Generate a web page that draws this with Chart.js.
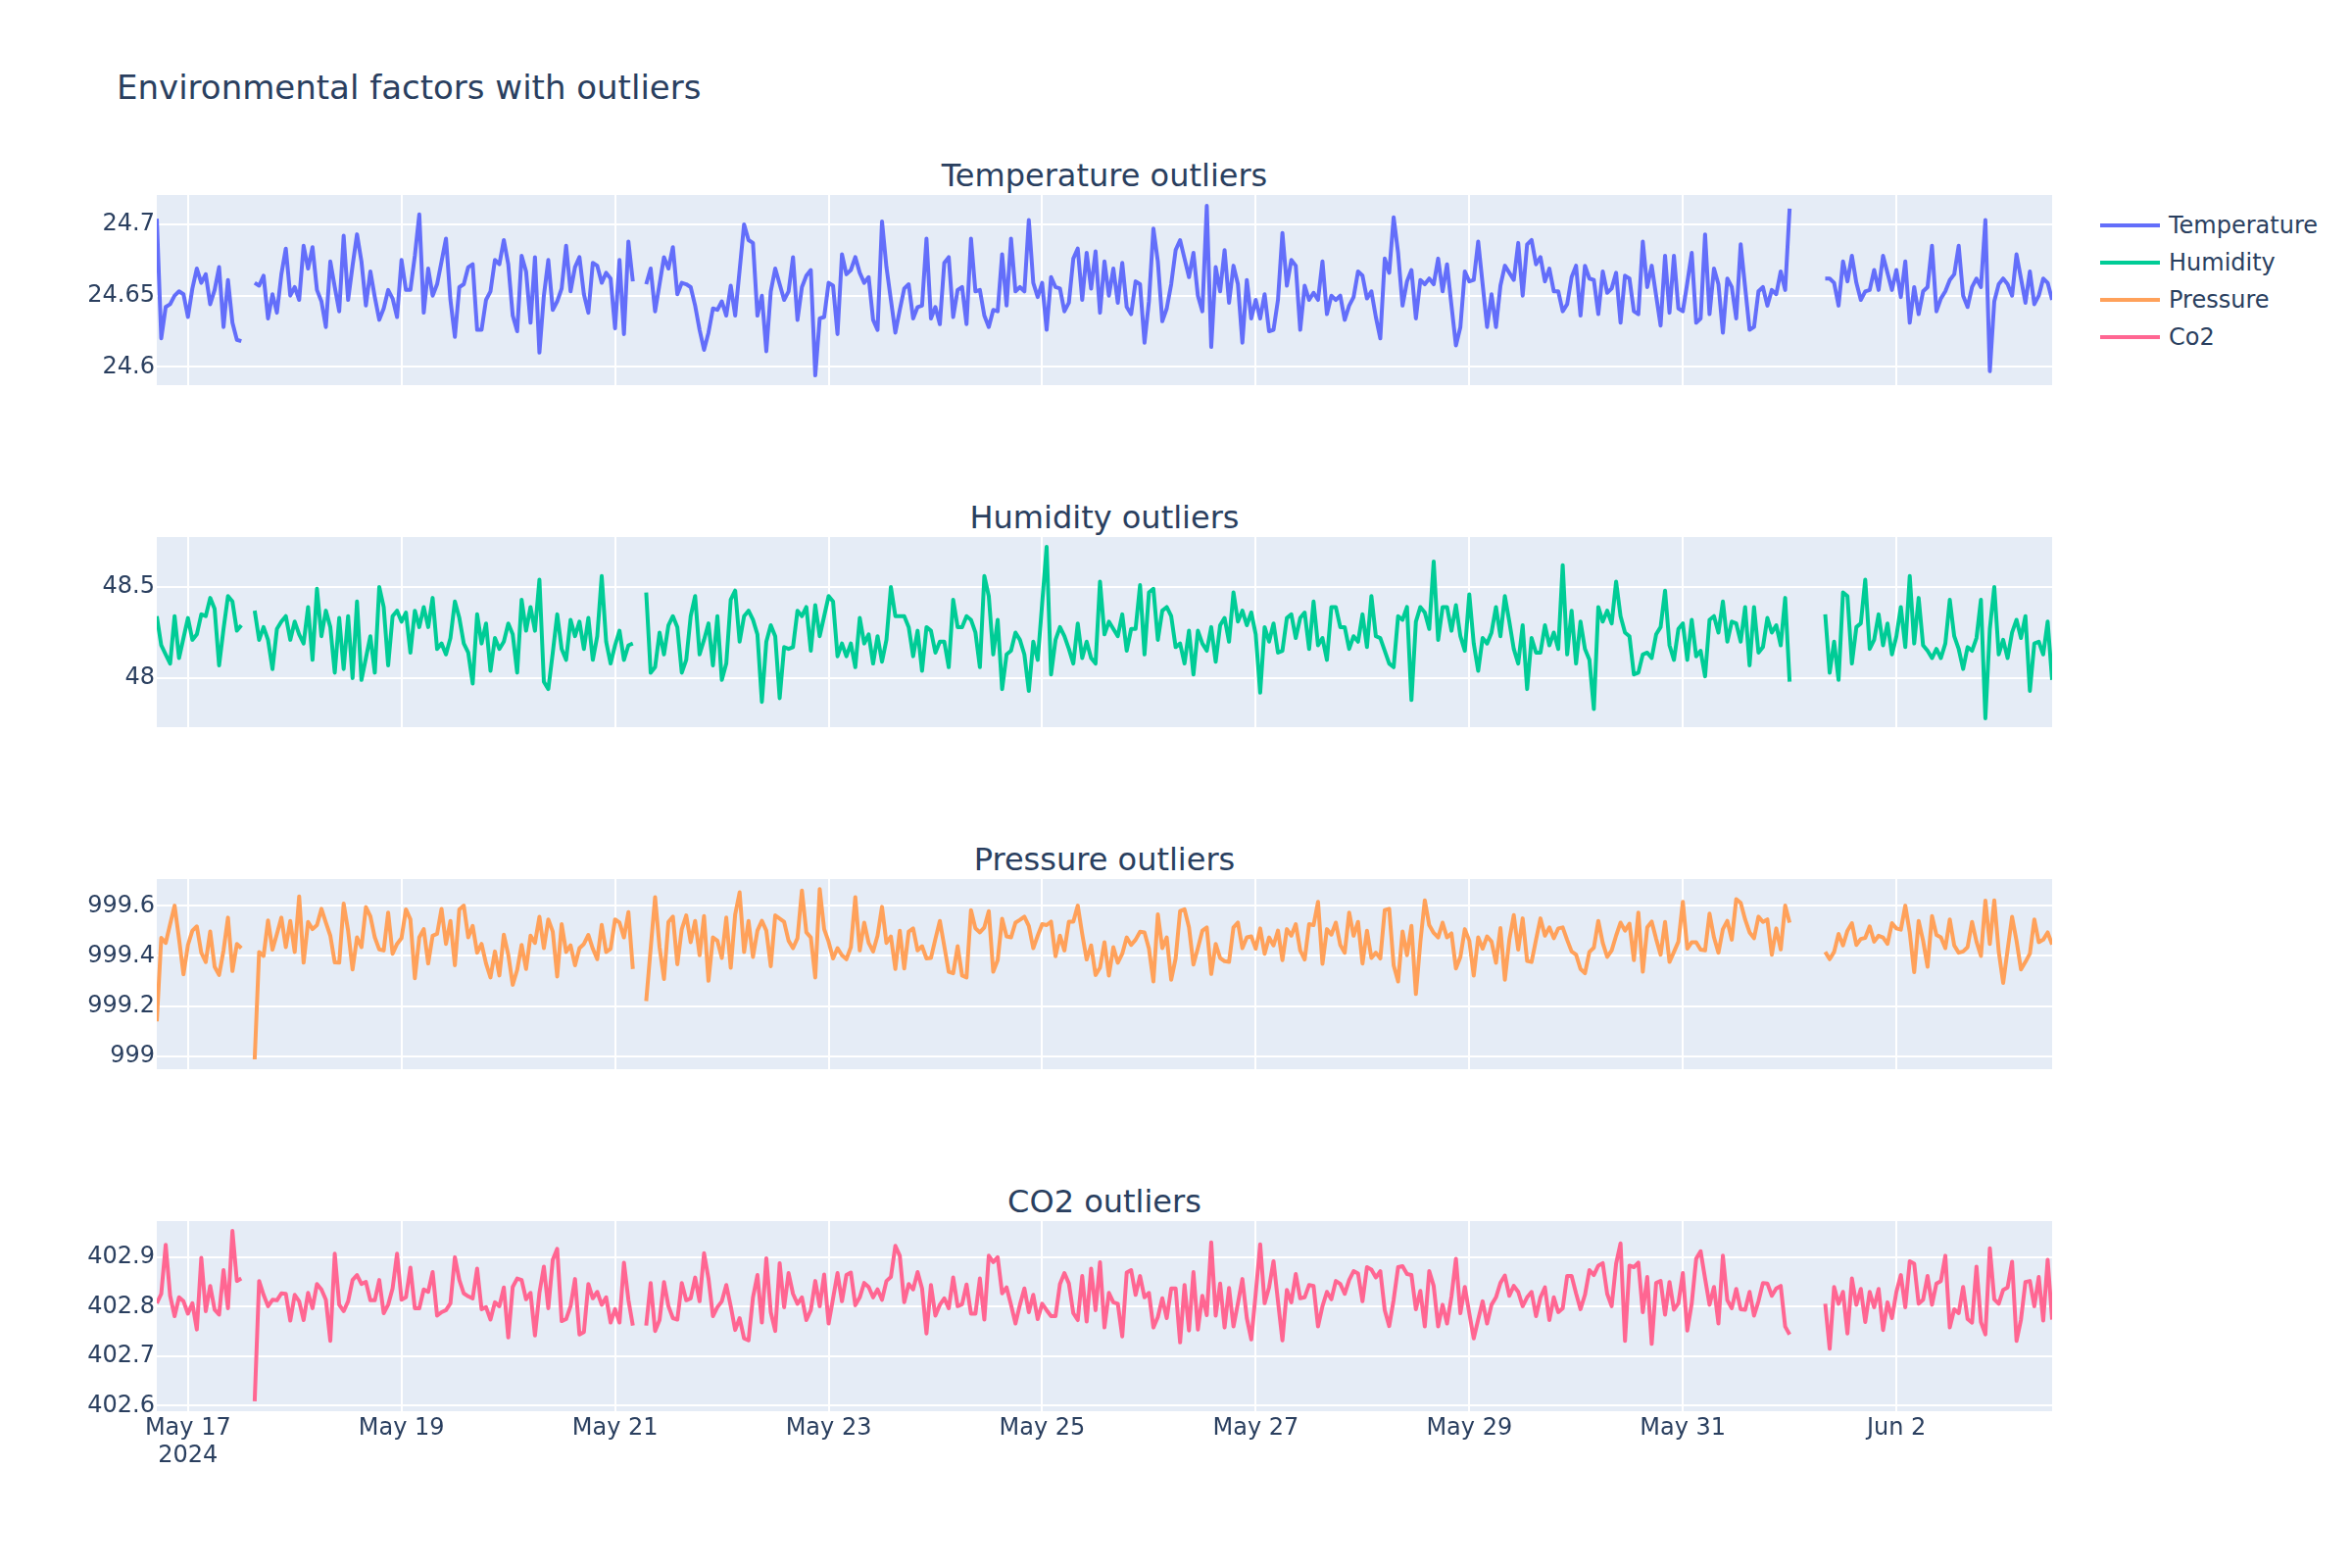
<!DOCTYPE html>
<html><head><meta charset="utf-8">
<script src="https://cdn.jsdelivr.net/npm/chart.js@4.4.1/dist/chart.umd.min.js"></script>
<style>
html,body{margin:0;padding:0;background:#fff;width:2400px;height:1600px;overflow:hidden;font-family:'DejaVu Sans',sans-serif;color:#2a3f5f}
canvas{position:absolute;left:0}
.t{position:absolute;white-space:nowrap;color:#2a3f5f}
.sub{left:160px;width:1934px;text-align:center;font-size:32px;line-height:32px}
.lg{font-size:24px;line-height:24px;left:2213px}
.ll{position:absolute;left:2143px;width:61px;height:4px}
</style></head><body>
<div class="t" style="left:119px;top:72px;font-size:34px;line-height:34px">Environmental factors with outliers</div>
<div class="t sub" style="top:163px">Temperature outliers</div>
<div class="t sub" style="top:512px">Humidity outliers</div>
<div class="t sub" style="top:861px">Pressure outliers</div>
<div class="t sub" style="top:1210px">CO2 outliers</div>
<div id="legend"></div>
<canvas id="c0" width="2400" height="234" style="top:179px;width:2400px;height:234px"></canvas>
<canvas id="c1" width="2400" height="234" style="top:528px;width:2400px;height:234px"></canvas>
<canvas id="c2" width="2400" height="234" style="top:877px;width:2400px;height:234px"></canvas>
<canvas id="c3" width="2400" height="314" style="top:1226px;width:2400px;height:314px"></canvas>
<script>
const startTime = Date.UTC(2024, 4, 16, 17);
const HOUR = 3600000;

const temperature = [
24.704,24.620,24.642,24.644,24.650,24.653,24.651,24.635,24.655,24.669,
24.659,24.665,24.644,24.654,24.670,24.628,24.661,24.631,24.619,24.618,
null,null,24.659,24.657,24.664,24.634,24.651,24.638,24.665,24.683,
24.650,24.656,24.647,24.685,24.669,24.684,24.654,24.646,24.628,24.674,
24.656,24.639,24.692,24.647,24.671,24.693,24.674,24.643,24.667,24.649,
24.633,24.641,24.654,24.648,24.635,24.675,24.654,24.654,24.678,24.707,
24.638,24.669,24.650,24.658,24.674,24.690,24.647,24.621,24.656,24.658,
24.670,24.672,24.626,24.626,24.647,24.653,24.675,24.672,24.689,24.672,
24.636,24.625,24.678,24.667,24.631,24.677,24.610,24.650,24.675,24.640,
24.646,24.655,24.685,24.653,24.670,24.677,24.651,24.638,24.673,24.671,
24.659,24.666,24.662,24.627,24.675,24.623,24.688,24.660,null,null,
24.658,24.669,24.639,24.658,24.677,24.669,24.684,24.651,24.659,24.658,
24.656,24.643,24.626,24.612,24.624,24.641,24.640,24.646,24.636,24.657,
24.636,24.668,24.700,24.689,24.687,24.636,24.650,24.611,24.653,24.669,
24.658,24.647,24.653,24.677,24.633,24.656,24.664,24.668,24.594,24.634,
24.635,24.659,24.657,24.623,24.679,24.665,24.668,24.677,24.666,24.659,
24.663,24.633,24.626,24.702,24.670,24.647,24.624,24.640,24.655,24.658,
24.634,24.642,24.643,24.690,24.634,24.642,24.630,24.673,24.677,24.635,
24.654,24.656,24.630,24.690,24.653,24.654,24.636,24.628,24.640,24.639,
24.679,24.643,24.690,24.653,24.656,24.653,24.703,24.659,24.649,24.659,
24.626,24.663,24.656,24.655,24.639,24.645,24.676,24.683,24.647,24.680,
24.655,24.681,24.638,24.674,24.650,24.669,24.645,24.673,24.642,24.637,
24.660,24.658,24.617,24.646,24.697,24.674,24.632,24.641,24.658,24.682,
24.689,24.676,24.663,24.680,24.650,24.639,24.713,24.614,24.670,24.653,
24.682,24.645,24.671,24.658,24.617,24.661,24.634,24.647,24.634,24.651,
24.625,24.626,24.647,24.694,24.657,24.675,24.671,24.626,24.657,24.647,
24.652,24.647,24.674,24.637,24.650,24.647,24.650,24.633,24.643,24.649,
24.667,24.664,24.648,24.653,24.635,24.620,24.676,24.666,24.705,24.680,
24.643,24.660,24.668,24.634,24.661,24.658,24.662,24.658,24.676,24.653,
24.672,24.643,24.615,24.628,24.667,24.660,24.661,24.688,24.658,24.628,
24.651,24.628,24.657,24.671,24.666,24.661,24.687,24.650,24.686,24.689,
24.672,24.677,24.660,24.669,24.653,24.653,24.639,24.644,24.663,24.671,
24.636,24.671,24.662,24.661,24.637,24.667,24.652,24.655,24.666,24.631,
24.664,24.662,24.639,24.637,24.688,24.656,24.671,24.650,24.629,24.678,
24.638,24.678,24.641,24.639,24.659,24.680,24.631,24.634,24.693,24.637,
24.669,24.658,24.624,24.662,24.656,24.634,24.686,24.656,24.626,24.628,
24.653,24.656,24.643,24.654,24.651,24.667,24.654,24.711,null,null,
null,null,null,null,null,24.662,24.662,24.659,24.643,24.674,
24.660,24.678,24.659,24.647,24.653,24.654,24.668,24.654,24.678,24.666,
24.654,24.668,24.649,24.674,24.631,24.656,24.637,24.653,24.656,24.685,
24.639,24.648,24.653,24.661,24.665,24.685,24.650,24.642,24.656,24.662,
24.656,24.703,24.597,24.646,24.658,24.662,24.658,24.650,24.679,24.662,
24.645,24.667,24.644,24.650,24.662,24.659,24.647
];

const humidity = [
48.34,48.18,48.13,48.08,48.34,48.11,48.22,48.33,48.21,48.24,
48.35,48.34,48.44,48.38,48.07,48.27,48.45,48.42,48.26,48.29,
null,null,48.37,48.21,48.28,48.21,48.05,48.27,48.31,48.34,
48.21,48.31,48.24,48.19,48.39,48.10,48.49,48.23,48.37,48.28,
48.03,48.33,48.05,48.34,48.00,48.42,47.99,48.11,48.23,48.03,
48.50,48.39,48.07,48.34,48.37,48.31,48.36,48.14,48.37,48.28,
48.39,48.28,48.44,48.16,48.19,48.13,48.22,48.42,48.33,48.19,
48.14,47.97,48.35,48.19,48.30,48.04,48.22,48.16,48.20,48.30,
48.24,48.03,48.43,48.26,48.39,48.26,48.54,47.98,47.94,48.14,
48.35,48.16,48.10,48.32,48.23,48.31,48.16,48.33,48.10,48.23,
48.56,48.20,48.08,48.18,48.26,48.10,48.18,48.19,null,null,
48.47,48.03,48.06,48.25,48.13,48.29,48.34,48.28,48.03,48.10,
48.34,48.45,48.13,48.21,48.30,48.07,48.34,47.99,48.08,48.43,
48.48,48.20,48.34,48.37,48.32,48.24,47.87,48.20,48.29,48.23,
47.89,48.17,48.16,48.17,48.37,48.34,48.39,48.15,48.40,48.23,
48.34,48.45,48.42,48.12,48.19,48.12,48.19,48.06,48.33,48.19,
48.24,48.08,48.23,48.09,48.21,48.50,48.34,48.34,48.34,48.28,
48.12,48.26,48.04,48.28,48.26,48.14,48.20,48.20,48.06,48.43,
48.28,48.28,48.34,48.32,48.25,48.06,48.56,48.45,48.13,48.32,
47.94,48.13,48.15,48.25,48.21,48.13,47.93,48.20,48.10,48.41,
48.72,48.02,48.21,48.28,48.23,48.16,48.08,48.30,48.11,48.20,
48.11,48.08,48.53,48.24,48.31,48.27,48.23,48.35,48.15,48.27,
48.27,48.51,48.13,48.47,48.49,48.21,48.37,48.39,48.34,48.17,
48.19,48.08,48.26,48.02,48.26,48.19,48.15,48.28,48.09,48.29,
48.33,48.20,48.47,48.31,48.37,48.29,48.36,48.24,47.92,48.28,
48.20,48.30,48.14,48.15,48.33,48.35,48.22,48.33,48.36,48.16,
48.42,48.18,48.22,48.10,48.39,48.39,48.28,48.28,48.16,48.23,
48.20,48.35,48.17,48.45,48.23,48.22,48.15,48.08,48.06,48.34,
48.32,48.39,47.88,48.31,48.39,48.36,48.27,48.64,48.21,48.39,
48.39,48.26,48.40,48.23,48.15,48.46,48.19,48.04,48.22,48.19,
48.25,48.39,48.23,48.45,48.31,48.16,48.08,48.29,47.94,48.22,
48.14,48.14,48.29,48.18,48.25,48.16,48.62,48.13,48.37,48.08,
48.31,48.16,48.10,47.83,48.39,48.31,48.37,48.30,48.53,48.34,
48.25,48.23,48.02,48.03,48.13,48.14,48.11,48.24,48.28,48.48,
48.18,48.10,48.27,48.30,48.10,48.32,48.12,48.15,48.01,48.32,
48.34,48.25,48.42,48.20,48.31,48.30,48.20,48.39,48.07,48.39,
48.14,48.17,48.33,48.25,48.29,48.18,48.44,47.98,null,null,
null,null,null,null,null,48.35,48.03,48.20,47.99,48.47,
48.45,48.08,48.28,48.30,48.54,48.16,48.21,48.35,48.18,48.30,
48.13,48.23,48.39,48.17,48.56,48.19,48.44,48.18,48.15,48.11,
48.16,48.11,48.19,48.43,48.23,48.16,48.05,48.17,48.15,48.22,
48.43,47.78,48.27,48.50,48.13,48.21,48.11,48.25,48.32,48.22,
48.34,47.93,48.19,48.20,48.13,48.31,47.99
];

const pressure = [
999.139,999.472,999.452,999.527,999.601,999.468,999.327,999.444,999.501,999.518,
999.413,999.376,999.498,999.357,999.324,999.422,999.553,999.340,999.448,999.431,
null,null,998.987,999.416,999.400,999.542,999.425,999.488,999.553,999.435,
999.540,999.416,999.638,999.373,999.536,999.507,999.523,999.588,999.533,999.481,
999.374,999.373,999.609,999.501,999.346,999.474,999.435,999.595,999.559,999.474,
999.426,999.422,999.573,999.409,999.448,999.471,999.586,999.546,999.311,999.474,
999.507,999.370,999.481,999.488,999.588,999.448,999.540,999.363,999.586,999.601,
999.474,999.520,999.413,999.448,999.370,999.314,999.418,999.322,999.485,999.405,
999.285,999.344,999.444,999.348,999.481,999.452,999.556,999.431,999.546,999.497,
999.318,999.527,999.416,999.442,999.363,999.431,999.448,999.484,999.429,999.387,
999.524,999.416,999.429,999.546,999.533,999.474,999.575,999.348,null,null,
999.220,999.429,999.635,999.435,999.308,999.536,999.557,999.367,999.507,999.562,
999.455,999.540,999.403,999.559,999.301,999.474,999.461,999.392,999.553,999.353,
999.566,999.654,999.416,999.540,999.396,999.501,999.540,999.501,999.359,999.562,
999.549,999.536,999.461,999.431,999.471,999.661,999.494,999.474,999.314,999.667,
999.507,999.457,999.390,999.431,999.403,999.387,999.435,999.635,999.422,999.533,
999.452,999.418,999.481,999.596,999.452,999.478,999.348,999.501,999.350,999.497,
999.510,999.422,999.439,999.390,999.392,999.468,999.540,999.439,999.337,999.331,
999.439,999.322,999.314,999.583,999.510,999.494,999.514,999.579,999.337,999.383,
999.549,999.478,999.474,999.533,999.544,999.557,999.520,999.431,999.481,999.527,
999.523,999.537,999.399,999.481,999.422,999.537,999.537,999.601,999.488,999.386,
999.442,999.324,999.353,999.455,999.322,999.435,999.373,999.409,999.474,999.444,
999.465,999.497,999.494,999.429,999.298,999.566,999.431,999.474,999.305,999.390,
999.579,999.586,999.514,999.366,999.431,999.501,999.514,999.328,999.448,999.392,
999.379,999.376,999.514,999.533,999.431,999.474,999.478,999.429,999.510,999.409,
999.474,999.442,999.501,999.383,999.507,999.481,999.527,999.422,999.386,999.527,
999.523,999.616,999.369,999.507,999.485,999.533,999.444,999.413,999.573,999.481,
999.536,999.370,999.501,999.392,999.413,999.390,999.583,999.588,999.363,999.298,
999.498,999.403,999.520,999.248,999.455,999.622,999.523,999.492,999.474,999.533,
999.474,999.490,999.350,999.396,999.507,999.461,999.322,999.474,999.429,999.478,
999.457,999.373,999.511,999.305,999.465,999.563,999.425,999.550,999.380,999.376,
999.465,999.550,999.481,999.514,999.471,999.510,999.514,999.464,999.418,999.405,
999.348,999.331,999.416,999.433,999.540,999.452,999.396,999.422,999.481,999.533,
999.501,999.529,999.383,999.573,999.337,999.514,999.537,999.468,999.405,999.536,
999.376,999.416,999.457,999.616,999.429,999.455,999.455,999.425,999.422,999.569,
999.474,999.413,999.507,999.540,999.465,999.627,999.612,999.546,999.494,999.471,
999.557,999.536,999.546,999.405,999.510,999.426,999.601,999.533,null,null,
null,null,null,null,null,999.416,999.387,999.416,999.488,999.442,
999.501,999.531,999.444,999.468,999.472,999.518,999.457,999.481,999.474,999.448,
999.531,999.510,999.505,999.601,999.494,999.335,999.540,999.461,999.357,999.559,
999.484,999.474,999.431,999.546,999.442,999.413,999.418,999.435,999.536,999.457,
999.400,999.621,999.448,999.622,999.418,999.292,999.425,999.556,999.461,999.346,
999.376,999.409,999.546,999.455,999.465,999.494,999.446
];

const co2 = [
402.807,402.826,402.925,402.822,402.781,402.819,402.811,402.786,402.807,402.754,
402.899,402.791,402.842,402.794,402.784,402.874,402.797,402.953,402.852,402.857,
null,null,402.609,402.852,402.824,402.801,402.814,402.813,402.827,402.826,
402.772,402.824,402.811,402.773,402.828,402.797,402.846,402.835,402.814,402.731,
402.907,402.804,402.791,402.811,402.854,402.864,402.846,402.850,402.813,402.813,
402.854,402.787,402.804,402.837,402.907,402.814,402.819,402.879,402.797,402.797,
402.835,402.830,402.870,402.782,402.789,402.793,402.807,402.900,402.854,402.827,
402.821,402.817,402.877,402.795,402.799,402.774,402.809,402.801,402.839,402.738,
402.840,402.857,402.854,402.815,402.828,402.742,402.828,402.881,402.797,402.895,
402.917,402.771,402.775,402.801,402.856,402.744,402.749,402.846,402.817,402.830,
402.804,402.819,402.768,402.795,402.768,402.889,402.814,402.762,null,null,
402.762,402.848,402.751,402.773,402.850,402.801,402.777,402.774,402.848,402.813,
402.817,402.859,402.811,402.908,402.857,402.781,402.799,402.811,402.844,402.801,
402.753,402.777,402.736,402.732,402.819,402.864,402.768,402.898,402.789,402.751,
402.888,402.799,402.868,402.826,402.806,402.819,402.773,402.793,402.852,402.801,
402.865,402.766,402.817,402.868,402.811,402.864,402.869,402.803,402.819,402.848,
402.840,402.819,402.835,402.814,402.852,402.860,402.923,402.903,402.809,402.846,
402.835,402.870,402.837,402.746,402.844,402.782,402.804,402.817,402.797,402.859,
402.801,402.805,402.845,402.786,402.786,402.857,402.774,402.903,402.890,402.900,
402.827,402.839,402.804,402.766,402.804,402.837,402.789,402.824,402.775,402.806,
402.793,402.781,402.781,402.846,402.868,402.847,402.787,402.773,402.862,402.770,
402.877,402.793,402.890,402.758,402.828,402.809,402.806,402.740,402.869,402.874,
402.824,402.862,402.819,402.828,402.758,402.779,402.817,402.777,402.837,402.837,
402.728,402.844,402.752,402.870,402.754,402.822,402.783,402.930,402.782,402.847,
402.758,402.838,402.760,402.807,402.856,402.777,402.734,402.827,402.926,402.807,
402.839,402.892,402.811,402.732,402.834,402.809,402.866,402.817,402.819,402.844,
402.842,402.760,402.801,402.830,402.815,402.852,402.846,402.826,402.854,402.872,
402.867,402.811,402.880,402.875,402.859,402.872,402.793,402.761,402.814,402.880,
402.882,402.866,402.864,402.795,402.832,402.760,402.872,402.842,402.760,402.804,
402.766,402.821,402.897,402.787,402.840,402.787,402.736,402.774,402.811,402.766,
402.804,402.819,402.848,402.863,402.822,402.842,402.830,402.801,402.819,402.830,
402.781,402.819,402.839,402.773,402.819,402.789,402.797,402.862,402.862,402.827,
402.795,402.824,402.874,402.864,402.883,402.888,402.826,402.801,402.887,402.928,
402.731,402.883,402.880,402.889,402.789,402.860,402.725,402.848,402.852,402.784,
402.850,402.794,402.807,402.868,402.752,402.807,402.897,402.912,402.857,402.804,
402.840,402.766,402.903,402.813,402.797,402.836,402.795,402.794,402.830,402.782,
402.811,402.848,402.847,402.822,402.837,402.842,402.760,402.744,null,null,
null,null,null,null,null,402.806,402.715,402.840,402.806,402.830,
402.746,402.857,402.804,402.836,402.769,402.830,402.799,402.836,402.753,402.809,
402.777,402.830,402.864,402.799,402.892,402.887,402.806,402.814,402.862,402.804,
402.847,402.852,402.903,402.758,402.795,402.787,402.840,402.775,402.768,402.881,
402.769,402.744,402.918,402.815,402.806,402.834,402.839,402.891,402.731,402.774,
402.850,402.852,402.801,402.860,402.772,402.895,402.774
];

const seriesNames = ['Temperature', 'Humidity', 'Pressure', 'Co2'];
const seriesColors = ['#636efa', '#00cc96', '#FFA15A', '#FF6692'];
const tempTicks = [24.6, 24.65, 24.7];
const humTicks = [48, 48.5];
const presTicks = [999, 999.2, 999.4, 999.6];
const co2Ticks = [402.6, 402.7, 402.8, 402.9];
const tickDates = ['2024-05-17','2024-05-19','2024-05-21','2024-05-23','2024-05-25','2024-05-27','2024-05-29','2024-05-31','2024-06-02'];
const tickLabels = [['May 17','2024'],'May 19','May 21','May 23','May 25','May 27','May 29','May 31','Jun 2'];

const times = temperature.map((_, i) => startTime + i * HOUR);
const tickValues = tickDates.map(d => Date.parse(d + 'T00:00:00Z'));

Chart.defaults.font.family = "'DejaVu Sans', sans-serif";
Chart.defaults.color = '#2a3f5f';

const plotBg = {
  id: 'plotBg',
  beforeDraw(chart) {
    const a = chart.chartArea, ctx = chart.ctx;
    ctx.save();
    ctx.fillStyle = '#E5ECF6';
    ctx.fillRect(a.left, a.top, a.right - a.left, a.bottom - a.top);
    ctx.restore();
  }
};

function makeChart(id, values, color, yMin, yMax, yTicks, showX) {
  const data = values.map((v, i) => ({x: times[i], y: v}));
  return new Chart(document.getElementById(id), {
    type: 'line',
    data: {datasets: [{data, borderColor: color, backgroundColor: color, borderWidth: 4,
      pointRadius: 0, pointHoverRadius: 0, tension: 0, spanGaps: false, fill: false,
      borderJoinStyle: 'round'}]},
    options: {
      responsive: false, animation: false, devicePixelRatio: 1,
      events: [],
      layout: {padding: {left: 0, right: 306, top: 20, bottom: showX ? 0 : 20}},
      plugins: {legend: {display: false}, title: {display: false}, tooltip: {enabled: false}},
      scales: {
        x: {
          type: 'linear', min: times[0], max: times[times.length - 1],
          grid: {color: '#ffffff', lineWidth: 2, drawTicks: false},
          border: {display: false},
          afterBuildTicks: s => { s.ticks = tickValues.map(v => ({value: v})); },
          afterFit: s => { s.height = showX ? 100 : 0; },
          ticks: {display: showX, autoSkip: false, maxRotation: 0, padding: 3,
            font: {size: 24, lineHeight: 1.2}, color: '#2a3f5f',
            callback: (v, i) => tickLabels[i]}
        },
        y: {
          type: 'linear', min: yMin, max: yMax,
          grid: {color: '#ffffff', lineWidth: 2, drawTicks: false},
          border: {display: false},
          afterBuildTicks: s => { s.ticks = yTicks.map(v => ({value: v})); },
          afterFit: s => { s.width = 160; },
          ticks: {autoSkip: false, padding: 2, font: {size: 24}, color: '#2a3f5f',
            callback: v => String(Number(Number(v).toFixed(3)))}
        }
      }
    },
    plugins: [plotBg]
  });
}

makeChart('c0', temperature, seriesColors[0], 24.5872, 24.7206, tempTicks, false);
makeChart('c1', humidity, seriesColors[1], 47.731, 48.774, humTicks, false);
makeChart('c2', pressure, seriesColors[2], 998.948, 999.707, presTicks, false);
makeChart('c3', co2, seriesColors[3], 402.589, 402.973, co2Ticks, true);

const legend = document.getElementById('legend');
const legendY = [230, 268, 306, 344];
seriesNames.forEach((name, i) => {
  const line = document.createElement('div');
  line.className = 'll';
  line.style.top = (legendY[i] - 2) + 'px';
  line.style.background = seriesColors[i];
  legend.appendChild(line);
  const txt = document.createElement('div');
  txt.className = 't lg';
  txt.style.top = (legendY[i] - 12) + 'px';
  txt.textContent = name;
  legend.appendChild(txt);
});
</script>
</body></html>
